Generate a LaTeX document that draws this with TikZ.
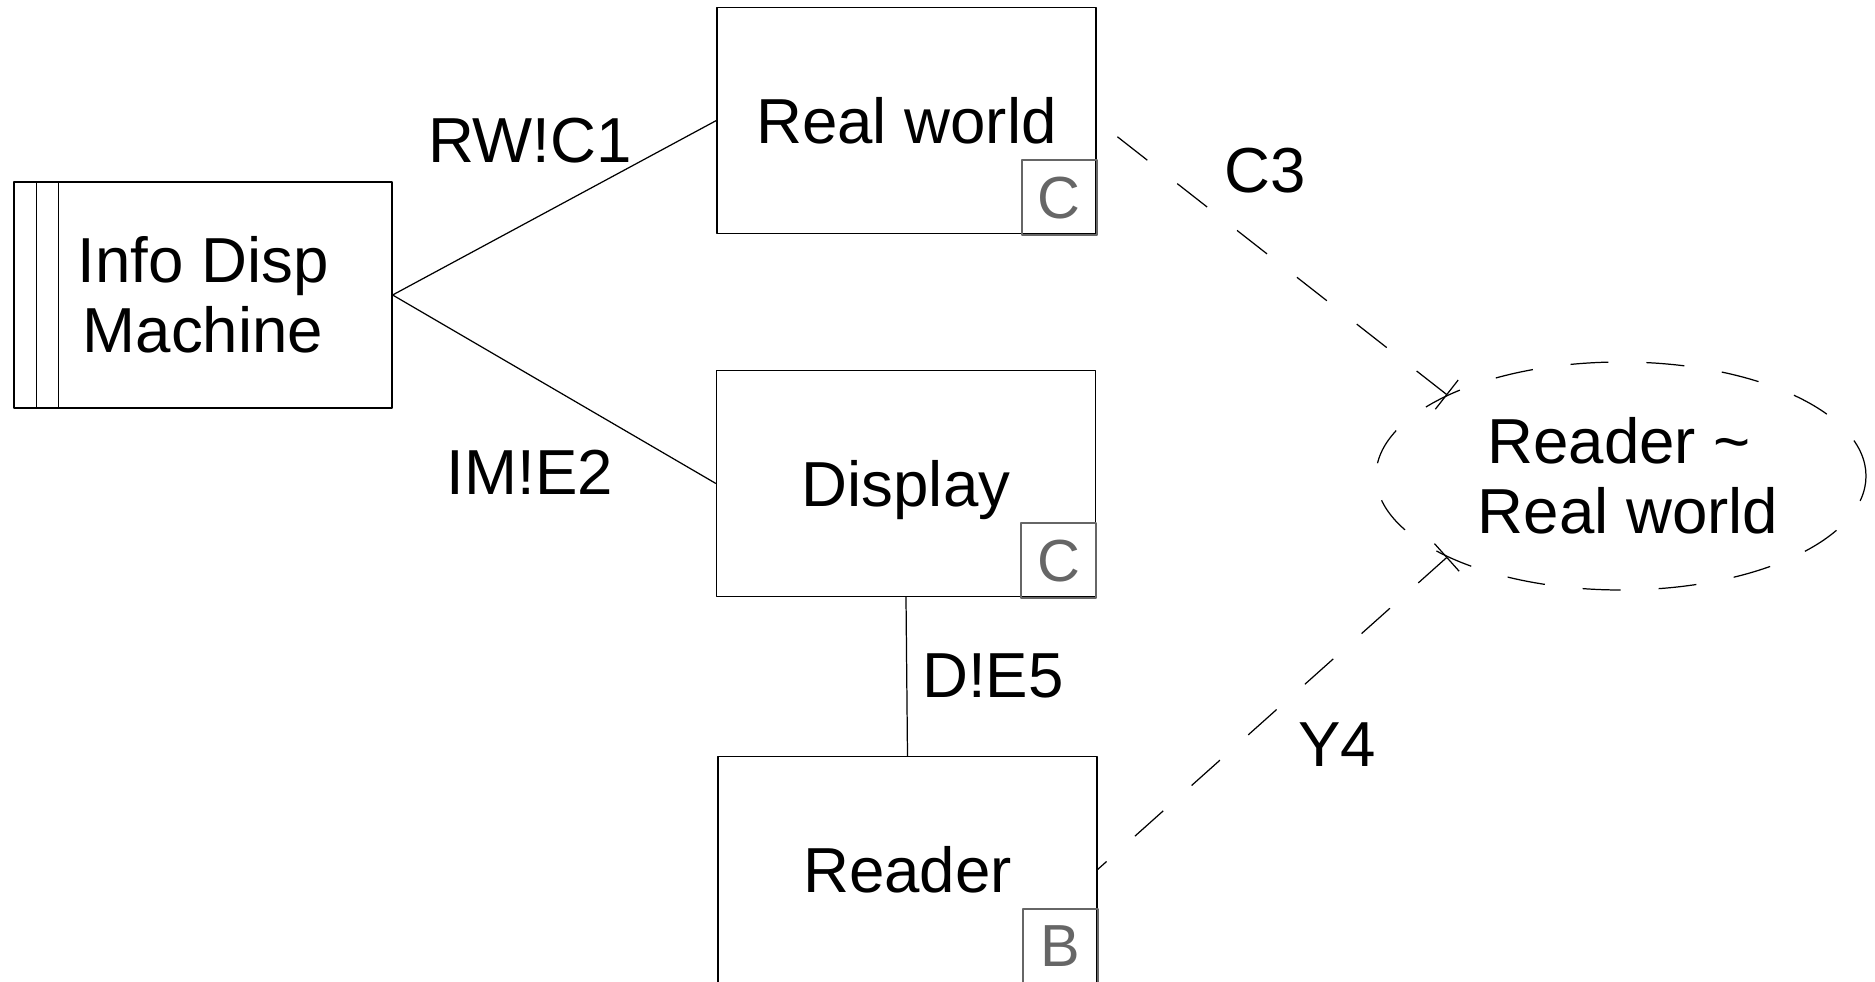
\documentclass[tikz,border=0pt]{standalone}
\usepackage{fontspec}
\setmainfont{Liberation Sans}
\usetikzlibrary{arrows.meta,shapes.geometric}
\definecolor{taggray}{HTML}{666666}

\begin{document}
\begin{tikzpicture}[line join=round, line width=0.35pt,
		font=\fontsize{18.1}{19.9}\selectfont,
		dombox/.style={draw, minimum width=3.79cm, minimum height=2.26cm, text depth=0pt},
		tagbox/.style={draw=taggray, text=taggray, line width=0.6pt, minimum size=0.75cm, inner sep=0pt, anchor=south east, font=\fontsize{16.9}{18}\selectfont},
		req/.style={draw, ellipse, dash pattern=on 0.38cm off 0.38cm, minimum width=4.9cm, minimum height=2.28cm, align=center},
		iface/.style={dash pattern=on 0.38cm off 0.38cm},
		lbl/.style={anchor=base}]
		\useasboundingbox (0,0) rectangle (18.75,-9.82);
		% machine with its stripes
		\node[draw, minimum width=3.78cm, minimum height=2.26cm, align=center] (mach) at (2.03,-2.95) {Info Disp\\Machine};
		\foreach \d in {0.23,0.45}
		\draw ([xshift=\d cm]mach.north west) -- ([xshift=\d cm]mach.south west);
		% domains
		\node[dombox] (rw) at (9.065,-1.205) {Real world};
		\node[dombox] (disp) at (9.06,-4.835) {Display};
		\node[dombox] (rdr) at (9.075,-8.695) {Reader};
		\node[tagbox] (rwtag) at ([shift={(0.01,-0.02)}]rw.south east) {C};
		\node[tagbox] (disptag) at ([shift={(0.01,-0.02)}]disp.south east) {C};
		\node[tagbox] (rdrtag) at ([shift={(0.01,-0.02)}]rdr.south east) {B};
		% requirement
		\node[req] (rrw) at (16.21,-4.76) {\kern0.14cm Reader \textasciitilde\kern0.28em\\\kern0.14cm Real world};
		% interfaces
		\draw (mach.east) -- (rw.west);
		\draw (mach.east) -- (disp.west);
		\draw (disp.south) -- (rdr.north);
		\draw[iface, {Bar[width=0.37cm]}-] (rrw.155) -- (rw.east);
		\draw[iface, {Bar[width=0.37cm]}-] (rrw.205) -- (rdr.east);
		\node[lbl] (c1) at (5.30,-1.63) {RW!C1};
		\node[lbl] (e2) at (5.30,-4.95) {IM!E2};
		\node[lbl] (c3) at (12.65,-1.93) {C3};
		\node[lbl] (e5) at (9.93,-6.98) {D!E5};
		\node[lbl] (y4) at (13.37,-7.67) {Y4};
\end{tikzpicture}
\end{document}
